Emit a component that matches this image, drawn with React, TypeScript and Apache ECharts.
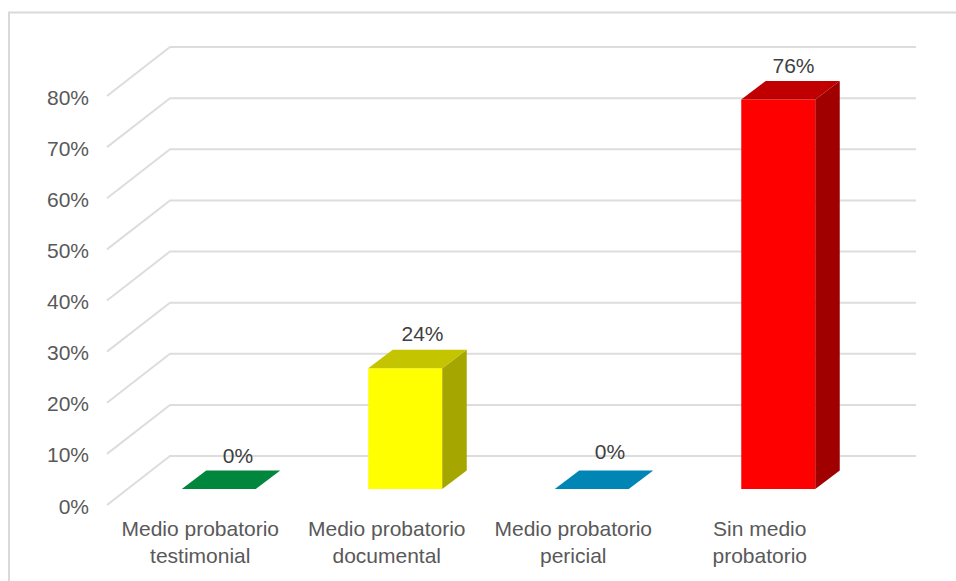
import React, { useEffect, useRef } from "react";
import * as echarts from "echarts";

const categories = [
  "Medio probatorio\ntestimonial",
  "Medio probatorio\ndocumental",
  "Medio probatorio\npericial",
  "Sin medio\nprobatorio",
];
const values = [0, 23.6, 0, 76.2];
const wallTicks = [0, 10, 20, 30, 40, 50, 60, 70, 80];

const frontColors = ["#00863D", "#FFFF00", "#0085B5", "#FF0000"];
const topColors = ["#00863D", "#C4C400", "#0085B5", "#C00000"];
const sideColors = ["#00863D", "#A6A600", "#0085B5", "#A00000"];
const labelNudgeX = [2, 0, 1, -2];
const labelNudgeY = [0, -1, -4, 0];

const FONT = '"Liberation Sans", Arial, sans-serif';
const FONT_SIZE = 21;
const WALL_DX = 63;
const WALL_DY = -49;
const WALL_START_DY = -1;
const BAR_SHIFT_X = 18.5;
const BAR_BASE_DY = -17;
const BAR_HALF = 37;
const DEPTH_DX = 24.5;
const DEPTH_DY = -18.5;

export default function App() {
  const ref = useRef<HTMLDivElement>(null);

  useEffect(() => {
    const chart = echarts.init(ref.current!, undefined, { renderer: "svg" });
    chart.setOption({
      animation: false,
      backgroundColor: "#ffffff",
      grid: { left: 107, right: 103, top: 97, bottom: 75, containLabel: false },
      graphic: [
        {
          type: "polyline",
          silent: true,
          shape: { points: [[9, 590], [9, 12.5], [960, 12.5]] },
          style: { fill: "none", stroke: "#D9D9D9", lineWidth: 2 },
        },
      ],
      xAxis: {
        type: "category",
        data: categories,
        axisLine: { show: false },
        axisTick: { show: false },
        axisLabel: {
          interval: 0,
          color: "#595959",
          fontFamily: FONT,
          fontSize: FONT_SIZE,
          lineHeight: 27,
          margin: 9,
        },
      },
      yAxis: {
        type: "value",
        min: 0,
        max: 80,
        interval: 10,
        axisLine: { show: false },
        axisTick: { show: false },
        splitLine: { show: false },
        axisLabel: {
          formatter: "{value}%",
          color: "#595959",
          fontFamily: FONT,
          fontSize: FONT_SIZE,
          margin: 18,
        },
      },
      series: [
        {
          type: "custom",
          silent: true,
          data: wallTicks.map((t) => [0, t]),
          encode: { x: 0, y: 1 },
          renderItem: (params: any, api: any) => {
            const y = api.coord([0, api.value(1)])[1] + WALL_START_DY;
            const sys = params.coordSys;
            const x0 = sys.x;
            const x2 = sys.x + sys.width + WALL_DX;
            return {
              type: "polyline",
              shape: {
                points: [
                  [x0, y],
                  [x0 + WALL_DX, y + WALL_DY],
                  [x2, y + WALL_DY],
                ],
              },
              style: { fill: "none", stroke: "#DDDDDD", lineWidth: 2 },
            };
          },
        },
        {
          type: "custom",
          silent: true,
          data: values.map((v, i) => [i, v]),
          encode: { x: 0, y: 1 },
          renderItem: (_params: any, api: any) => {
            const i = api.value(0);
            const v = api.value(1);
            const cx = api.coord([i, 0])[0] + BAR_SHIFT_X;
            const base = api.coord([i, 0])[1] + BAR_BASE_DY;
            const top = api.coord([i, v])[1] + BAR_BASE_DY;
            const l = cx - BAR_HALF;
            const r = cx + BAR_HALF;
            const children: any[] = [];
            if (v > 0) {
              children.push({
                type: "polygon",
                shape: { points: [[l, base], [r, base], [r, top], [l, top]] },
                style: { fill: frontColors[i] },
              });
              children.push({
                type: "polygon",
                shape: {
                  points: [
                    [r, base],
                    [r + DEPTH_DX, base + DEPTH_DY],
                    [r + DEPTH_DX, top + DEPTH_DY],
                    [r, top],
                  ],
                },
                style: { fill: sideColors[i] },
              });
            }
            children.push({
              type: "polygon",
              shape: {
                points: [
                  [l, top],
                  [r, top],
                  [r + DEPTH_DX, top + DEPTH_DY],
                  [l + DEPTH_DX, top + DEPTH_DY],
                ],
              },
              style: { fill: topColors[i] },
            });
            children.push({
              type: "text",
              style: {
                text: `${Math.round(v)}%`,
                x: cx + DEPTH_DX / 2 + 5 + labelNudgeX[i],
                y: top + DEPTH_DY - 15 + labelNudgeY[i],
                align: "center",
                verticalAlign: "middle",
                fill: "#404040",
                font: `${FONT_SIZE}px ${FONT}`,
              },
            });
            return { type: "group", children };
          },
        },
      ],
    });
    return () => chart.dispose();
  }, []);

  return (
    <div
      ref={ref}
      style={{ position: "fixed", left: 0, top: 0, width: 956, height: 581 }}
    />
  );
}
